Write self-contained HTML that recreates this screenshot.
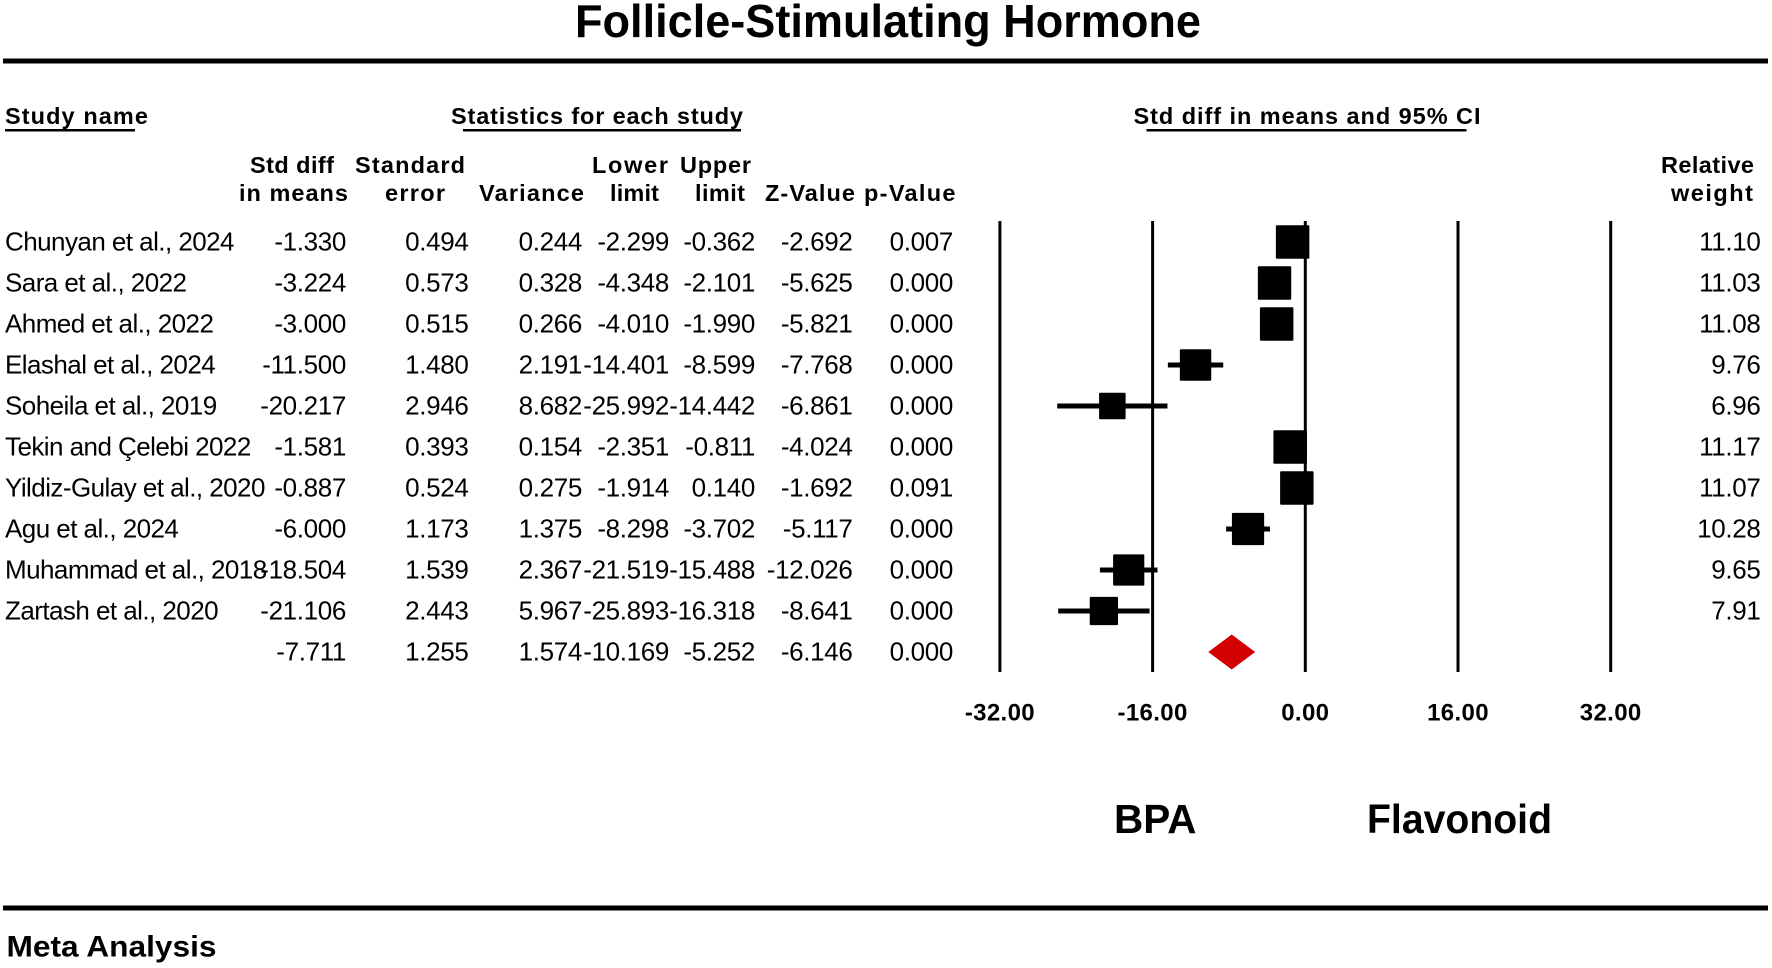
<!DOCTYPE html>
<html lang="en">
<head>
<meta charset="utf-8">
<title>Follicle-Stimulating Hormone forest plot</title>
<style>
html,body{margin:0;padding:0;background:#fff;width:1772px;height:968px;overflow:hidden}
svg{display:block;font-family:"Liberation Sans",Arial,sans-serif;filter:blur(.35px)}
.h{font-weight:700;font-size:23.5px;fill:#000}
.n{font-size:26px;fill:#000;letter-spacing:-.35px}
.s{font-size:26px;fill:#000;letter-spacing:-.55px}
.t{font-weight:700;font-size:24px;fill:#000;text-anchor:middle;letter-spacing:.35px}
</style>
</head>
<body>
<svg id="chart" width="1772" height="968" viewBox="0 0 1772 968" xmlns="http://www.w3.org/2000/svg">
  <rect x="0" y="0" width="1772" height="968" fill="#fff"/>
  <text x="575" y="37" font-size="46.5" font-weight="700" textLength="626" lengthAdjust="spacingAndGlyphs">Follicle-Stimulating Hormone</text>
  <rect x="3" y="58.5" width="1765" height="5"/>

  <text class="h" x="5" y="124" textLength="143" lengthAdjust="spacing">Study name</text>
  <rect x="5" y="129" width="130" height="2.5"/>
  <text class="h" x="451" y="124" textLength="292" lengthAdjust="spacing">Statistics for each study</text>
  <rect x="463" y="129" width="278" height="2.5"/>
  <text class="h" x="1133.5" y="124" textLength="347" lengthAdjust="spacing">Std diff in means and 95% CI</text>
  <rect x="1146.5" y="129" width="320" height="2.5"/>

  <text class="h" x="250" y="173" textLength="84" lengthAdjust="spacing">Std diff</text>
  <text class="h" x="239" y="201" textLength="109" lengthAdjust="spacing">in means</text>
  <text class="h" x="355" y="173" textLength="110" lengthAdjust="spacing">Standard</text>
  <text class="h" x="385" y="201" textLength="60" lengthAdjust="spacing">error</text>
  <text class="h" x="479" y="201" textLength="105" lengthAdjust="spacing">Variance</text>
  <text class="h" x="592" y="173" textLength="76" lengthAdjust="spacing">Lower</text>
  <text class="h" x="610" y="201" textLength="49" lengthAdjust="spacing">limit</text>
  <text class="h" x="680" y="173" textLength="71" lengthAdjust="spacing">Upper</text>
  <text class="h" x="695" y="201" textLength="50" lengthAdjust="spacing">limit</text>
  <text class="h" x="765" y="201" textLength="90" lengthAdjust="spacing">Z-Value</text>
  <text class="h" x="864" y="201" textLength="91.5" lengthAdjust="spacing">p-Value</text>
  <text class="h" x="1661" y="173" textLength="93" lengthAdjust="spacing">Relative</text>
  <text class="h" x="1671" y="201" textLength="82" lengthAdjust="spacing">weight</text>

  <g id="grid"></g>
  <g id="marks"></g>
  <g id="table"></g>
  <g id="ticks"></g>

  <text x="1114" y="833" font-size="41" font-weight="700" textLength="82.5" lengthAdjust="spacingAndGlyphs">BPA</text>
  <text x="1367" y="833" font-size="41" font-weight="700" textLength="185" lengthAdjust="spacingAndGlyphs">Flavonoid</text>
  <rect x="3" y="905.5" width="1765" height="5"/>
  <text x="6.5" y="956.5" font-size="30" font-weight="700" textLength="210" lengthAdjust="spacingAndGlyphs">Meta Analysis</text>
</svg>

<script>
const studies = ["Chunyan et al., 2024","Sara et al., 2022","Ahmed et al., 2022","Elashal et al., 2024","Soheila et al., 2019","Tekin and Çelebi 2022","Yildiz-Gulay et al., 2020","Agu et al., 2024","Muhammad et al., 2018","Zartash et al., 2020"];
const stdDiff = [-1.330,-3.224,-3.000,-11.500,-20.217,-1.581,-0.887,-6.000,-18.504,-21.106];
const stdErr = [0.494,0.573,0.515,1.480,2.946,0.393,0.524,1.173,1.539,2.443];
const variance = [0.244,0.328,0.266,2.191,8.682,0.154,0.275,1.375,2.367,5.967];
const lower = [-2.299,-4.348,-4.010,-14.401,-25.992,-2.351,-1.914,-8.298,-21.519,-25.893];
const upper = [-0.362,-2.101,-1.990,-8.599,-14.442,-0.811,0.140,-3.702,-15.488,-16.318];
const zValue = [-2.692,-5.625,-5.821,-7.768,-6.861,-4.024,-1.692,-5.117,-12.026,-8.641];
const pValue = [0.007,0.000,0.000,0.000,0.000,0.000,0.091,0.000,0.000,0.000];
const weight = [11.10,11.03,11.08,9.76,6.96,11.17,11.07,10.28,9.65,7.91];

const summaryStdDiff = -7.711;
const summaryStdErr = 1.255;
const summaryVariance = 1.574;
const summaryLower = -10.169;
const summaryUpper = -5.252;
const summaryZ = -6.146;
const summaryP = 0.000;

const tickValues = [-32,-16,0,16,32];
const tickLabels = ["-32.00","-16.00","0.00","16.00","32.00"];

const NS = "http://www.w3.org/2000/svg";
const xScale = v => 1305.3 + v * (152.7 / 16);
const rowY = i => 242 + i * 41;
const boxSide = w => 10.05 * Math.sqrt(w);

function make(tag, attrs, parent) {
  const el = document.createElementNS(NS, tag);
  for (const k in attrs) el.setAttribute(k, attrs[k]);
  parent.appendChild(el);
  return el;
}

const grid = document.getElementById("grid");
const marks = document.getElementById("marks");
const table = document.getElementById("table");
const ticks = document.getElementById("ticks");

tickValues.forEach((v, i) => {
  const line = make("line", {x1:xScale(v), x2:xScale(v), y1:221, y2:672, stroke:"#000", "stroke-width":3}, grid);
  
  
  const label = make("text", {x:xScale(v), y:720.5, class:"t"}, ticks);
  
  
  label.textContent = tickLabels[i];
});

studies.forEach((name, i) => {
  const y = rowY(i);
  const ci = make("line", {x1:xScale(lower[i]), x2:xScale(upper[i]), y1:y, y2:y, stroke:"#000", "stroke-width":5}, marks);
  
  
  const side = boxSide(weight[i]);
  const box = make("rect", {x:xScale(stdDiff[i]) - side / 2, y:y - side / 2, width:side, height:side, rx:1, fill:"#000"}, marks);
  
  
});

const sy = rowY(10);
const diamond = make("polygon", {
  points: [
    xScale(summaryLower) + "," + sy,
    xScale(summaryStdDiff) + "," + (sy - 17.5),
    xScale(summaryUpper) + "," + sy,
    xScale(summaryStdDiff) + "," + (sy + 17.5)
  ].join(" "),
  fill: "#d20000"
}, marks);



function cell(str, x, y, cls, anchor) {
  const t = make("text", {x:x, y:y, class:cls, "text-anchor":anchor}, table);
  
  
  t.textContent = str;
  return t;
}

function statRow(y, vals) {
  cell(vals[0].toFixed(3), 346, y, "n", "end");
  cell(vals[1].toFixed(3), 468.5, y, "n", "end");
  cell(vals[2].toFixed(3), 582, y, "n", "end");
  cell(vals[3].toFixed(3), 669, y, "n", "end");
  cell(vals[4].toFixed(3), 755, y, "n", "end");
  cell(vals[5].toFixed(3), 852.5, y, "n", "end");
  cell(vals[6].toFixed(3), 953, y, "n", "end");
}

studies.forEach((name, i) => {
  const y = rowY(i) + 8.5;
  cell(name, 5, y, "s", "start");
  statRow(y, [stdDiff[i], stdErr[i], variance[i], lower[i], upper[i], zValue[i], pValue[i]]);
  cell(weight[i].toFixed(2), 1760.5, y, "n", "end");
});
statRow(rowY(10) + 8.5, [summaryStdDiff, summaryStdErr, summaryVariance, summaryLower, summaryUpper, summaryZ, summaryP]);
</script>
</body>
</html>
